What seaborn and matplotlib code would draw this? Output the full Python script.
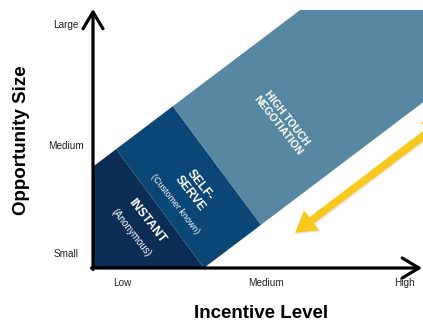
import matplotlib
matplotlib.use("Agg")
import matplotlib.pyplot as plt
import matplotlib.patheffects as pe
import numpy as np
import seaborn as sns

# Axis categories and where they sit on the 0-10 scales
x_levels = ["Low", "Medium", "High"]
x_level_pos = [0.88, 5.24, 9.44]
y_levels = ["Small", "Medium", "Large"]
y_level_pos = [0.58, 4.77, 9.46]

# Engagement band: upper edge y = slope*x + intercept, lower edge y = slope*(x - x0)
band_slope = 0.967
band_upper_intercept = 3.93
band_lower_x0 = 3.36

# Segment boundaries along the band (x where each divider meets the upper / lower edge)
segments = ["INSTANT", "SELF-SERVE", "HIGH TOUCH"]
divider_upper_x = [-6.0, 0.70, 2.42, 14.0]
divider_lower_x = [-6.0, 3.36, 5.09, 14.0]
segment_colors = ["#0b2d55", "#0a4676", "#5888a1"]

# Segment captions
titles = ["INSTANT", "SELF-\nSERVE", "HIGH TOUCH\nNEGOTIATION"]
title_sizes = [8.8, 8.8, 7.6]
title_xy = [(1.64, 1.82), (3.09, 3.06), (5.73, 5.66)]
subtitles = ["(Anonymous)", "(Customer known)"]
subtitle_sizes = [7.0, 6.4]
subtitle_xy = [(1.15, 1.36), (2.48, 2.48)]

# Trade-off arrow running along the band
trade_tip = (6.12, 1.36)
trade_end = (10.67, 5.76)

sns.set_theme(style="white")
plt.rcParams["font.family"] = ["Liberation Sans", "DejaVu Sans"]

fig = plt.figure(figsize=(4.23, 3.26), dpi=100)
ax = fig.add_axes([93 / 423, 58 / 326, 330 / 423, 258 / 326])
ax.set_xlim(0, 10)
ax.set_ylim(0, 10)


def upper(x):
    return band_slope * x + band_upper_intercept


def lower(x):
    return band_slope * (x - band_lower_x0)


for i, color in enumerate(segment_colors):
    ux0, ux1 = divider_upper_x[i], divider_upper_x[i + 1]
    lx0, lx1 = divider_lower_x[i], divider_lower_x[i + 1]
    xs = [ux0, ux1, lx1, lx0]
    ys = [upper(ux0), upper(ux1), lower(lx1), lower(lx0)]
    ax.fill(xs, ys, color=color, lw=0, zorder=1)

angle = -52
for t, (x, y), s in zip(titles, title_xy, title_sizes):
    ax.text(x, y, t, color="white", fontweight="bold", fontsize=s,
            rotation=angle, rotation_mode="anchor", ha="center", va="center",
            multialignment="center", zorder=3)
for t, (x, y), s in zip(subtitles, subtitle_xy, subtitle_sizes):
    ax.text(x, y, t, color="white", fontsize=s, rotation=angle,
            rotation_mode="anchor", ha="center", va="center", zorder=3)

# Double-headed yellow arrow
mid = ((trade_tip[0] + trade_end[0]) / 2, (trade_tip[1] + trade_end[1]) / 2)
arrow_style = "simple,head_length=1.5,head_width=1.8,tail_width=0.55"
ax.annotate("", xy=trade_tip, xytext=trade_end,
            arrowprops=dict(arrowstyle=arrow_style, color="#f8c81c", lw=0,
                            shrinkA=0, shrinkB=0, mutation_scale=10,
                            path_effects=[pe.SimplePatchShadow(offset=(1.0, -1.0),
                                                               shadow_rgbFace="#999999",
                                                               alpha=0.2),
                                          pe.Normal()]),
            annotation_clip=False, zorder=4)
ax.annotate("", xy=trade_end, xytext=mid,
            arrowprops=dict(arrowstyle=arrow_style, color="#f8c81c", lw=0,
                            shrinkA=0, shrinkB=0, mutation_scale=10),
            annotation_clip=False, zorder=4)

# Axes drawn as arrows
axis_arrow = dict(arrowstyle="->,head_length=1.0,head_width=0.6", lw=2.3,
                  color="black", shrinkA=0, shrinkB=0)
ax.annotate("", xy=(0, 10.04), xytext=(0, -0.06), arrowprops=axis_arrow,
            annotation_clip=False, zorder=5)
ax.annotate("", xy=(9.97, 0), xytext=(-0.045, 0), arrowprops=axis_arrow,
            annotation_clip=False, zorder=5)

sns.despine(ax=ax, left=True, bottom=True, top=True, right=True)
ax.grid(False)

ax.set_xticks(x_level_pos)
ax.set_xticklabels(x_levels, fontsize=7.2, color="#222222")
ax.set_yticks(y_level_pos)
ax.set_yticklabels(y_levels, fontsize=7.2, color="#222222")
for lab in ax.get_yticklabels():
    lab.set_horizontalalignment("center")
ax.tick_params(axis="y", length=0, pad=19.5)
ax.tick_params(axis="x", length=0, pad=7.5)

ax.set_xlabel("Incentive Level", fontsize=13.5, fontweight="bold", color="black")
ax.set_ylabel("Opportunity Size", fontsize=13.5, fontweight="bold", color="black")
ax.xaxis.set_label_coords(0.509, -0.142)
ax.yaxis.set_label_coords(-0.19, 0.496)

fig.savefig("out.png", dpi=100)
